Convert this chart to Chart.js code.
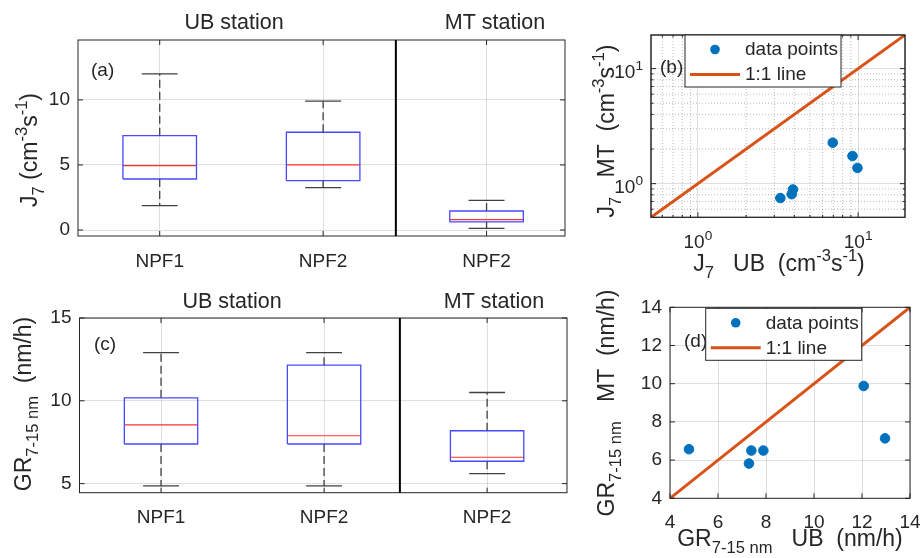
<!DOCTYPE html>
<html>
<head>
<meta charset="utf-8">
<script src="https://cdn.jsdelivr.net/npm/chart.js@4.4.1/dist/chart.umd.min.js"></script>
<style>
	body{margin:0;background:#fff;}
	#wrap{position:relative;width:924px;height:558px;overflow:hidden;}
	#wrap canvas{position:absolute;left:0;top:0;}
</style>
</head>
<body>
<div id="wrap">
	<canvas id="panelA" width="924" height="558"></canvas>
	<canvas id="panelB" width="924" height="558"></canvas>
	<canvas id="panelC" width="924" height="558"></canvas>
	<canvas id="panelD" width="924" height="558"></canvas>
</div>
<script>
// box positions and names (UB: NPF1, NPF2 | MT: NPF2)
var boxCats = [1, 2, 3];
var boxNames = ['NPF1', 'NPF2', 'NPF2'];

// J7 box statistics (cm-3 s-1)
var j7Low = [1.87, 3.26, 0.13];
var j7Q1 = [3.92, 3.80, 0.62];
var j7Med = [4.95, 5.00, 0.80];
var j7Q3 = [7.25, 7.51, 1.46];
var j7High = [12.0, 9.9, 2.28];

// GR 7-15 nm box statistics (nm/h)
var grLow = [4.86, 4.86, 5.60];
var grQ1 = [7.39, 7.39, 6.35];
var grMed = [8.55, 7.89, 6.59];
var grQ3 = [10.18, 12.15, 8.19];
var grHigh = [12.91, 12.91, 10.50];

// paired events UB vs MT
var j7UB = [3.27, 3.85, 3.92, 6.94, 9.22, 9.90];
var j7MT = [0.75, 0.81, 0.89, 2.27, 1.74, 1.37];
var grUB = [4.79, 7.39, 7.29, 7.89, 12.07, 12.96];
var grMT = [6.57, 6.50, 5.82, 6.50, 9.88, 7.14];

// axis ticks and limits
var j7Ticks = [0, 5, 10];
var grTicks = [5, 10, 15];
var logTicks = [1, 10];
var logMinor = [0.6, 0.7, 0.8, 0.9, 2, 3, 4, 5, 6, 7, 8, 9];
var grPairTicks = [4, 6, 8, 10, 12, 14];
var logLim = [0.51, 19.6];
var grPairLim = [4, 14];

var FONT = '"Liberation Sans", Arial, Helvetica, sans-serif';
var INK = '#262626';
var GRID = 'rgba(38,38,38,0.15)';
var BLUE = '#0072BD';
var ORANGE = '#D95319';
var LABEL = 23;

function fixX(h){
	return function(s){ s.height = h; s.paddingLeft = 0; s.paddingRight = 0; };
}
function fixY(w){
	return function(s){ s.width = w; s.paddingTop = 0; s.paddingBottom = 0; };
}
function setTicks(list){
	return function(s){ s.ticks = list.map(function(v){ return {value: v, major: true}; }); };
}
function padFor(l, t, r, b){
	return {left: l - 50, top: t, right: 924 - r, bottom: 558 - b - 40};
}

function txt(ctx, s, x, y, size, align){
	ctx.save();
	ctx.font = size + 'px ' + FONT;
	ctx.textAlign = align || 'center';
	ctx.textBaseline = 'middle';
	ctx.fillStyle = INK;
	ctx.fillText(s, x, y);
	ctx.restore();
}

// text with sub (-1) / superscript (1) parts, y is baseline
function drawRich(ctx, segs, x, y, size, rot, align){
	ctx.save();
	ctx.translate(x, y);
	if(rot){
		ctx.rotate(-Math.PI / 2);
	}
	var w = 0;
	for(var i = 0; i < segs.length; i++){
		ctx.font = (segs[i][1] ? size * 0.72 : size) + 'px ' + FONT;
		w += ctx.measureText(segs[i][0]).width;
	}
	var cx = align == 'left' ? 0 : (align == 'right' ? -w : -w / 2);
	ctx.textAlign = 'left';
	ctx.textBaseline = 'alphabetic';
	ctx.fillStyle = INK;
	for(var i = 0; i < segs.length; i++){
		var sz = segs[i][1] ? size * 0.72 : size;
		ctx.font = sz + 'px ' + FONT;
		var dy = 0;
		if(segs[i][1] == -1) dy = size * 0.3;
		if(segs[i][1] == 1) dy = -size * 0.42;
		ctx.fillText(segs[i][0], cx, dy);
		cx += ctx.measureText(segs[i][0]).width;
	}
	ctx.restore();
}

function drawFrame(chart, xt, yt, tickLen){
	var ctx = chart.ctx, a = chart.chartArea, sx = chart.scales.x, sy = chart.scales.y;
	ctx.save();
	ctx.strokeStyle = INK;
	ctx.lineWidth = 1;
	ctx.strokeRect(a.left, a.top, a.right - a.left, a.bottom - a.top);
	ctx.beginPath();
	for(var i = 0; i < xt.length; i++){
		var p = sx.getPixelForValue(xt[i]);
		ctx.moveTo(p, a.bottom); ctx.lineTo(p, a.bottom - tickLen);
		ctx.moveTo(p, a.top); ctx.lineTo(p, a.top + tickLen);
	}
	for(var i = 0; i < yt.length; i++){
		var q = sy.getPixelForValue(yt[i]);
		ctx.moveTo(a.left, q); ctx.lineTo(a.left + tickLen, q);
		ctx.moveTo(a.right, q); ctx.lineTo(a.right - tickLen, q);
	}
	ctx.stroke();
	ctx.restore();
}

function drawSplit(chart, v){
	var ctx = chart.ctx, a = chart.chartArea;
	var p = chart.scales.x.getPixelForValue(v);
	ctx.save();
	ctx.strokeStyle = '#000';
	ctx.lineWidth = 2;
	ctx.beginPath();
	ctx.moveTo(p, a.top);
	ctx.lineTo(p, a.bottom);
	ctx.stroke();
	ctx.restore();
}

function drawLegend(ctx, x0, y0){
	var w = 156, h = 52;
	ctx.save();
	ctx.fillStyle = '#fff';
	ctx.fillRect(x0, y0, w, h);
	ctx.strokeStyle = INK;
	ctx.lineWidth = 1;
	ctx.strokeRect(x0, y0, w, h);
	ctx.fillStyle = BLUE;
	ctx.beginPath();
	ctx.arc(x0 + 30, y0 + 14.5, 4.8, 0, Math.PI * 2);
	ctx.fill();
	ctx.strokeStyle = ORANGE;
	ctx.lineWidth = 3;
	ctx.beginPath();
	ctx.moveTo(x0 + 5, y0 + 39.5);
	ctx.lineTo(x0 + 55, y0 + 39.5);
	ctx.stroke();
	ctx.restore();
	txt(ctx, 'data points', x0 + 60, y0 + 15, 19, 'left');
	txt(ctx, '1:1 line', x0 + 60, y0 + 40, 19, 'left');
}

function boxDatasets(low, q1, med, q3, high){
	var hw = 0.225, cw = 0.11;
	var boxes = [], meds = [], whisk = [], caps = [];
	for(var i = 0; i < boxCats.length; i++){
		var c = boxCats[i];
		boxes.push({x: c - hw, y: q1[i]}, {x: c + hw, y: q1[i]}, {x: c + hw, y: q3[i]}, {x: c - hw, y: q3[i]}, {x: c - hw, y: q1[i]}, {x: c, y: null});
		meds.push({x: c - hw, y: med[i]}, {x: c + hw, y: med[i]}, {x: c, y: null});
		whisk.push({x: c, y: q3[i]}, {x: c, y: high[i]}, {x: c, y: null}, {x: c, y: q1[i]}, {x: c, y: low[i]}, {x: c, y: null});
		caps.push({x: c - cw, y: high[i]}, {x: c + cw, y: high[i]}, {x: c, y: null}, {x: c - cw, y: low[i]}, {x: c + cw, y: low[i]}, {x: c, y: null});
	}
	var base = {showLine: true, pointRadius: 0, spanGaps: false, fill: false, tension: 0};
	return [
		Object.assign({data: whisk, borderColor: '#404040', borderWidth: 1.3, borderDash: [8, 4]}, base),
		Object.assign({data: caps, borderColor: '#404040', borderWidth: 1.3}, base),
		Object.assign({data: boxes, borderColor: '#4848ff', borderWidth: 1.3}, base),
		Object.assign({data: meds, borderColor: '#ff3030', borderWidth: 1.2}, base)
	];
}

function tickFont(){
	return {family: FONT, size: 19};
}

function boxChart(id, area, xMax, yMin, yMax, yTicks, stats, decorate){
	return new Chart(document.getElementById(id), {
		type: 'scatter',
		data: {datasets: boxDatasets(stats[0], stats[1], stats[2], stats[3], stats[4])},
		options: {
			responsive: false,
			animation: false,
			events: [],
			layout: {padding: padFor(area[0], area[1], area[2], area[3])},
			plugins: {legend: {display: false}, tooltip: {enabled: false}},
			scales: {
				x: {
					type: 'linear', min: 0.5, max: xMax,
					afterBuildTicks: setTicks(boxCats), afterFit: fixX(40),
					grid: {color: GRID, drawTicks: false}, border: {display: false},
					ticks: {padding: 14, maxRotation: 0, autoSkip: false, color: INK, font: tickFont(),
						callback: function(v){ return boxNames[boxCats.indexOf(v)]; }}
				},
				y: {
					type: 'linear', min: yMin, max: yMax,
					afterBuildTicks: setTicks(yTicks), afterFit: fixY(50),
					grid: {color: GRID, drawTicks: false}, border: {display: false},
					ticks: {padding: 8, color: INK, font: tickFont()}
				}
			}
		},
		plugins: [{id: 'decor', afterDraw: decorate}]
	});
}

function pairPoints(xs, ys){
	var pts = [];
	for(var i = 0; i < xs.length; i++){
		pts.push({x: xs[i], y: ys[i]});
	}
	return pts;
}

function pairDatasets(xs, ys, lim){
	return [
		{data: pairPoints(xs, ys), backgroundColor: BLUE, borderColor: BLUE, pointRadius: 4.8, showLine: false},
		{data: pairPoints(lim, lim), borderColor: ORANGE, borderWidth: 3, pointRadius: 0, showLine: true, fill: false}
	];
}

// (a) J7 box plot
boxChart('panelA', [78, 40, 565, 236], 3.48, -0.46, 14.6, j7Ticks, [j7Low, j7Q1, j7Med, j7Q3, j7High], function(chart){
	var ctx = chart.ctx;
	drawFrame(chart, boxCats, j7Ticks, 5);
	drawSplit(chart, 2.445);
	txt(ctx, 'UB station', 234, 23, 21.5);
	txt(ctx, 'MT station', 495, 23, 21.5);
	txt(ctx, '(a)', 91, 71, 19, 'left');
	drawRich(ctx, [['J', 0], ['7', -1], [' (cm', 0], ['-3', 1], ['s', 0], ['-1', 1], [')', 0]], 37, 150, LABEL, true);
});

// (c) GR box plot
boxChart('panelC', [79.5, 318, 567, 492.7], 3.49, 4.45, 15, grTicks, [grLow, grQ1, grMed, grQ3, grHigh], function(chart){
	var ctx = chart.ctx;
	drawFrame(chart, boxCats, grTicks, 5);
	drawSplit(chart, 2.465);
	txt(ctx, 'UB station', 232, 302, 21.5);
	txt(ctx, 'MT station', 494, 302, 21.5);
	txt(ctx, '(c)', 94, 345, 19, 'left');
	drawRich(ctx, [['GR', 0], ['7-15 nm', -1], ['  (nm/h)', 0]], 31, 404, LABEL, true);
});

// (b) J7 MT vs UB, log-log
new Chart(document.getElementById('panelB'), {
	type: 'scatter',
	data: {datasets: pairDatasets(j7UB, j7MT, logLim)},
	options: {
		responsive: false,
		animation: false,
		events: [],
		layout: {padding: padFor(651, 35, 905, 217.3)},
		plugins: {legend: {display: false}, tooltip: {enabled: false}},
		scales: {
			x: {
				type: 'logarithmic', min: logLim[0], max: logLim[1],
				afterBuildTicks: setTicks(logTicks), afterFit: fixX(40),
				grid: {color: GRID, drawTicks: false}, border: {display: false},
				ticks: {display: false}
			},
			y: {
				type: 'logarithmic', min: logLim[0], max: logLim[1],
				afterBuildTicks: setTicks(logTicks), afterFit: fixY(50),
				grid: {color: GRID, drawTicks: false}, border: {display: false},
				ticks: {display: false}
			}
		}
	},
	plugins: [{
		id: 'decor',
		beforeDatasetsDraw: function(chart){
			var ctx = chart.ctx, a = chart.chartArea, sx = chart.scales.x, sy = chart.scales.y;
			ctx.save();
			ctx.strokeStyle = 'rgba(38,38,38,0.3)';
			ctx.lineWidth = 1;
			ctx.setLineDash([1, 2]);
			ctx.beginPath();
			for(var i = 0; i < logMinor.length; i++){
				var p = sx.getPixelForValue(logMinor[i]);
				ctx.moveTo(p, a.top); ctx.lineTo(p, a.bottom);
				var q = sy.getPixelForValue(logMinor[i]);
				ctx.moveTo(a.left, q); ctx.lineTo(a.right, q);
			}
			ctx.stroke();
			ctx.restore();
		},
		afterDraw: function(chart){
			var ctx = chart.ctx, a = chart.chartArea, sx = chart.scales.x, sy = chart.scales.y;
			drawFrame(chart, logTicks, logTicks, 5);
			drawFrame(chart, logMinor, logMinor, 2.5);
			for(var i = 0; i < logTicks.length; i++){
				var e = String(Math.round(Math.log10(logTicks[i])));
				drawRich(ctx, [['10', 0], [e, 1]], sx.getPixelForValue(logTicks[i]), a.bottom + 31, 19, false, 'center');
				drawRich(ctx, [['10', 0], [e, 1]], a.left - 8, sy.getPixelForValue(logTicks[i]) + 9, 19, false, 'right');
			}
			txt(ctx, '(b)', 660, 68, 19, 'left');
			drawLegend(ctx, 685, 35);
			drawRich(ctx, [['J', 0], ['7', -1], ['   MT  (cm', 0], ['-3', 1], ['s', 0], ['-1', 1], [')', 0]], 614, 131, LABEL, true);
			drawRich(ctx, [['J', 0], ['7', -1], ['   UB  (cm', 0], ['-3', 1], ['s', 0], ['-1', 1], [')', 0]], 779, 271, LABEL, false);
		}
	}]
});

// (d) GR MT vs UB
new Chart(document.getElementById('panelD'), {
	type: 'scatter',
	data: {datasets: pairDatasets(grUB, grMT, grPairLim)},
	options: {
		responsive: false,
		animation: false,
		events: [],
		layout: {padding: padFor(670, 307.3, 910, 498.3)},
		plugins: {legend: {display: false}, tooltip: {enabled: false}},
		scales: {
			x: {
				type: 'linear', min: grPairLim[0], max: grPairLim[1],
				afterBuildTicks: setTicks(grPairTicks), afterFit: fixX(40),
				grid: {color: GRID, drawTicks: false}, border: {display: false},
				ticks: {padding: 13, maxRotation: 0, autoSkip: false, color: INK, font: tickFont()}
			},
			y: {
				type: 'linear', min: grPairLim[0], max: grPairLim[1],
				afterBuildTicks: setTicks(grPairTicks), afterFit: fixY(50),
				grid: {color: GRID, drawTicks: false}, border: {display: false},
				ticks: {padding: 8, autoSkip: false, color: INK, font: tickFont()}
			}
		}
	},
	plugins: [{
		id: 'decor',
		afterDraw: function(chart){
			var ctx = chart.ctx;
			drawFrame(chart, grPairTicks, grPairTicks, 5);
			txt(ctx, '(d)', 684, 342, 19, 'left');
			drawLegend(ctx, 705.7, 308.3);
			drawRich(ctx, [['GR', 0], ['7-15 nm', -1], ['   MT  (nm/h)', 0]], 614, 403, LABEL, true);
			drawRich(ctx, [['GR', 0], ['7-15 nm', -1], ['   UB  (nm/h)', 0]], 790, 546, LABEL, false);
		}
	}]
});
</script>
</body>
</html>
